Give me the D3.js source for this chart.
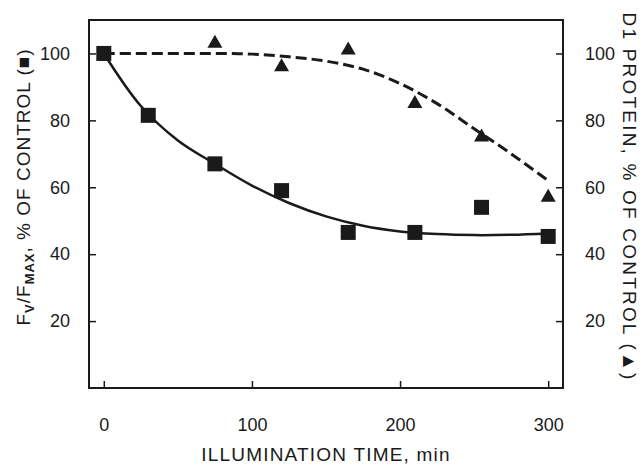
<!DOCTYPE html>
<html>
<head>
<meta charset="utf-8">
<script src="https://cdn.jsdelivr.net/npm/d3@7"></script>
<style>
  body { margin: 0; background: #fff; }
  text { font-family: "Liberation Sans", Arial, sans-serif; fill: #1a1a1a; }
</style>
</head>
<body>
<script>
// measured points
const sqTime = [0, 30, 75, 120, 165, 210, 255, 300];
const sqValue = [100, 81.5, 67, 59, 46.5, 46.5, 54, 45.3];
const triTime = [75, 120, 165, 210, 255, 300];
const triValue = [103.5, 96.5, 101.5, 85.5, 75.5, 57.5];

// fitted curves
const fitTime = [0, 25, 50, 75, 100, 125, 150, 175, 200, 225, 250, 275, 300];
const fitFv = [100, 84.3, 74, 67, 60.5, 55.3, 51.3, 48.5, 46.8, 46, 45.7, 45.8, 46.2];
const fitD1 = [100, 100, 100, 100, 99.8, 99, 97.7, 95.3, 91, 85, 77.5, 70, 62];

const xTicks = [0, 100, 200, 300];
const yTicks = [20, 40, 60, 80, 100];

const W = 644, H = 468;
const margin = {top: 20, right: 81, bottom: 80, left: 89};
const w = W - margin.left - margin.right;
const h = H - margin.top - margin.bottom;
const ink = "#1a1a1a";

const svg = d3.select("body").append("svg")
  .attr("width", W).attr("height", H);

const g = svg.append("g")
  .attr("transform", "translate(" + margin.left + "," + margin.top + ")");

const x = d3.scaleLinear().domain([-10, 310]).range([0, w]);
const y = d3.scaleLinear().domain([0, 110]).range([h, 0]);

// axes, ticks pointing inward
const xAxis = d3.axisBottom(x).tickValues(xTicks).tickSizeInner(-7).tickSizeOuter(0).tickPadding(30);
const yAxisL = d3.axisLeft(y).tickValues(yTicks).tickSizeInner(-7).tickSizeOuter(0).tickPadding(19);
const yAxisR = d3.axisRight(y).tickValues(yTicks).tickSizeInner(-7).tickSizeOuter(0).tickPadding(22);

function styleAxis(sel) {
  sel.select(".domain").remove();
  sel.selectAll("line").attr("stroke", ink).attr("stroke-width", 1.5);
  sel.selectAll("text").style("font-size", "18px").attr("fill", ink);
}

g.append("g").attr("transform", "translate(0," + h + ")").call(xAxis).call(styleAxis);
g.append("g").call(yAxisL).call(styleAxis);
g.append("g").attr("transform", "translate(" + w + ",0)").call(yAxisR).call(styleAxis);

// frame
g.append("rect")
  .attr("width", w).attr("height", h)
  .attr("fill", "none").attr("stroke", ink).attr("stroke-width", 2);

// fitted curves
const line = d3.line()
  .x(d => x(d[0])).y(d => y(d[1]))
  .curve(d3.curveCatmullRom);

g.append("path")
  .datum(d3.zip(fitTime, fitD1))
  .attr("d", line)
  .attr("fill", "none").attr("stroke", ink)
  .attr("stroke-width", 3).attr("stroke-dasharray", "11,5");

g.append("path")
  .datum(d3.zip(fitTime, fitFv))
  .attr("d", line)
  .attr("fill", "none").attr("stroke", ink)
  .attr("stroke-width", 2.5);

// markers
g.selectAll(".tri")
  .data(d3.zip(triTime, triValue))
  .enter().append("path")
  .attr("class", "tri")
  .attr("transform", d => "translate(" + x(d[0]) + "," + y(d[1]) + ")")
  .attr("d", "M0,-7L7.5,6L-7.5,6Z")
  .attr("fill", ink);

const sq = 15;
g.selectAll(".sq")
  .data(d3.zip(sqTime, sqValue))
  .enter().append("rect")
  .attr("class", "sq")
  .attr("x", d => x(d[0]) - sq / 2)
  .attr("y", d => y(d[1]) - sq / 2)
  .attr("width", sq).attr("height", sq)
  .attr("fill", ink);

// axis titles
svg.append("text")
  .attr("x", margin.left + w / 2)
  .attr("y", 461)
  .attr("text-anchor", "middle")
  .style("font-size", "19px")
  .style("letter-spacing", "1.2px")
  .text("ILLUMINATION TIME, min");

const leftTitle = svg.append("text")
  .attr("transform", "translate(30,187) rotate(-90)")
  .attr("text-anchor", "middle")
  .style("font-size", "19px")
  .style("letter-spacing", "1px");
leftTitle.append("tspan").text("F");
leftTitle.append("tspan").attr("dy", 4).style("font-size", "13px").style("font-weight", "bold").text("V");
leftTitle.append("tspan").attr("dy", -4).text("/F");
leftTitle.append("tspan").attr("dy", 4).style("font-size", "13px").style("font-weight", "bold").text("MAX");
leftTitle.append("tspan").attr("dy", -4).text(", % OF CONTROL (\u25A0)");

svg.append("text")
  .attr("transform", "translate(623,197) rotate(90)")
  .attr("text-anchor", "middle")
  .style("font-size", "19px")
  .style("letter-spacing", "2.2px")
  .text("D1 PROTEIN, % OF CONTROL (\u25B2)");
</script>
</body>
</html>
